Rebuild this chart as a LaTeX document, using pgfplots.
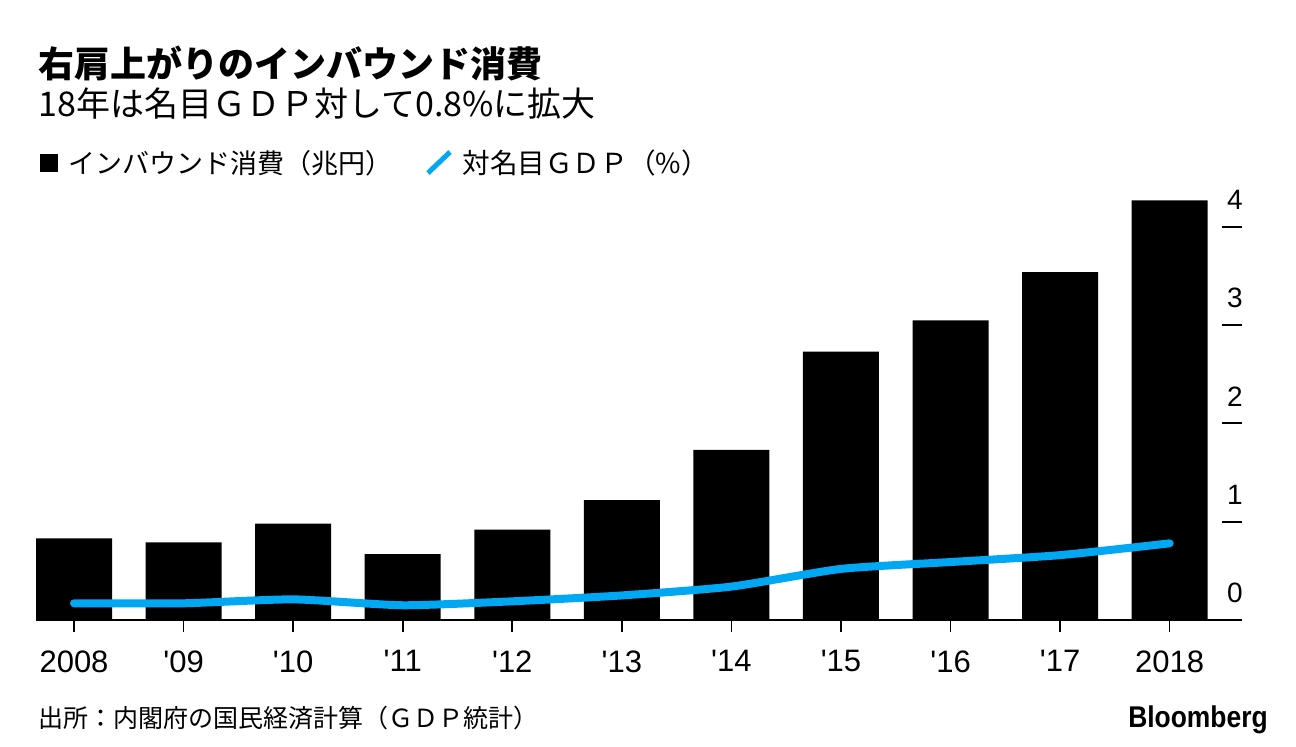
\documentclass[border=0pt]{standalone}
\usepackage{fontspec}
\setmainfont{Liberation Sans}[Ligatures=TeXOff]
\newfontfamily\cjk{Noto Sans CJK JP}
\usepackage{pgfplots}
\usepackage{pgfplotstable}
\pgfplotsset{compat=1.18}
\definecolor{bbblue}{HTML}{00A7F2}

% year index, inbound spending (trillion yen), share of nominal GDP (%)
\pgfplotstableread{
x  spend  gdp
0  0.83   0.17
1  0.79   0.17
2  0.98   0.21
3  0.67   0.15
4  0.92   0.19
5  1.22   0.25
6  1.73   0.34
7  2.73   0.52
8  3.05   0.59
9  3.54   0.66
10 4.27   0.78
}\inbound

\begin{document}
\begin{tikzpicture}
\useasboundingbox (0,0) rectangle (648pt,373pt);

\begin{axis}[
    at={(18pt,63pt)}, anchor=south west,
    scale only axis, width=603pt, height=211.3pt,
    xmin=-0.347, xmax=10.66, ymin=0, ymax=4.3,
    clip=false,
    axis x line*=bottom, axis y line*=right,
    x axis line style={-, line width=1pt},
    y axis line style={draw=none},
    xtick={0,...,10},
    xticklabels={2008,'09,'10,'11,'12,'13,'14,'15,'16,'17,2018},
    tick align=outside,
    major tick length=6pt,
    x tick style={line width=0.8pt, black},
    xticklabel style={font=\fontsize{15.5}{15.5}\selectfont, anchor=north, inner sep=0pt, yshift=-9pt},
    ytick=\empty,
    extra y ticks={0,1,2,3,4},
    extra y tick labels={0,1,2,3,4},
    extra y tick style={tick align=inside, major tick length=10pt,
        y tick style={line width=1pt, black},
        yticklabel style={font=\fontsize{14}{14}\selectfont, anchor=south, inner sep=0pt, xshift=-3.5pt, yshift=8.5pt}},
    /pgf/number format/assume math mode=true,
]
\addplot[ybar, bar width=38pt, bar shift=0pt, fill=black, draw=none] table[x=x, y=spend] {\inbound};
\addplot[bbblue, line width=4pt, line cap=round, line join=round, smooth, tension=0.35, mark=none] table[x=x, y=gdp] {\inbound};
\end{axis}

% titles
\node[anchor=base west, inner sep=0pt] at (19pt,334pt) {\cjk\bfseries\fontsize{18}{18}\selectfont 右肩上がりのインバウンド消費};
\node[anchor=base west, inner sep=0pt] at (19pt,314.5pt) {\cjk\fontsize{17}{17}\selectfont 18年は名目ＧＤＰ対して0.8\%に拡大};

% legend
\fill (20pt,287pt) rectangle (29pt,296pt);
\node[anchor=west, inner sep=0pt] at (34pt,291.5pt) {\cjk\fontsize{13.5}{13.5}\selectfont インバウンド消費（兆円）};
\draw[bbblue, line width=2.5pt] (214pt,286.5pt) -- (225pt,297pt);
\node[anchor=west, inner sep=0pt] at (231pt,291.5pt) {\cjk\fontsize{13.8}{13.8}\selectfont 対名目ＧＤＰ（\%）};

% footer
\node[anchor=base west, inner sep=0pt] at (19pt,9.5pt) {\cjk\fontsize{12.5}{12.5}\selectfont 出所：内閣府の国民経済計算（ＧＤＰ統計）};
\node[anchor=base east, inner sep=0pt, xscale=0.88, transform shape] at (634pt,9.5pt) {\bfseries\fontsize{15}{15}\selectfont Bloomberg};
\end{tikzpicture}
\end{document}
